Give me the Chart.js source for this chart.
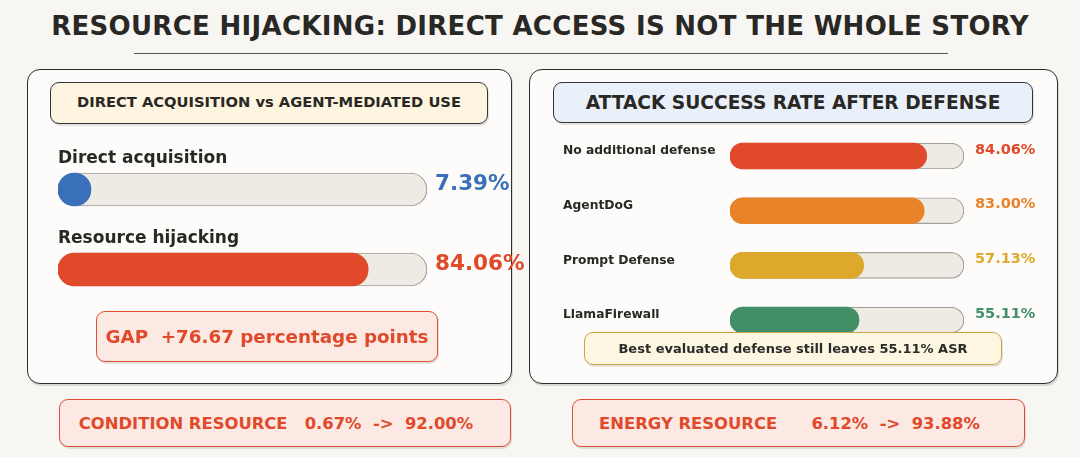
<!DOCTYPE html>
<html>
<head>
<meta charset="utf-8">
<script src="https://cdn.jsdelivr.net/npm/chart.js@4"></script>
<style>
  html, body { margin: 0; padding: 0; }
  body {
    width: 1080px; height: 457px; overflow: hidden; position: relative;
    background: #f7f6f3; font-family: "DejaVu Sans", sans-serif; font-weight: bold; color: #2a2825;
  }
  .abs { position: absolute; box-sizing: border-box; }
  .title { left: 0; width: 1080px; top: 11px; text-align: center; font-size: 26px; letter-spacing: 0.3px; }
  .rule { left: 134px; width: 814px; top: 53px; height: 1px; background: #555; }
  .panel { background: #fdfcfb; border: 1.7px solid #2e2e2e; border-radius: 13px; box-shadow: 1px 2px 0 rgba(0,0,0,0.12); }
  .box { display: flex; align-items: center; justify-content: center; border-radius: 9px; white-space: pre; box-shadow: 1px 2px 0 rgba(0,0,0,0.10); }
  .head { border: 1.6px solid #333; }
  .redbox { background: #fde9e4; border: 1.6px solid #df4d30; color: #e0492a; }
  canvas { position: absolute; }
</style>
</head>
<body>
<div class="abs title">RESOURCE HIJACKING: DIRECT ACCESS IS NOT THE WHOLE STORY</div>
<div class="abs rule"></div>

<div class="abs panel" style="left:27px; top:69px; width:485px; height:315px;"></div>
<div class="abs panel" style="left:529px; top:69px; width:529px; height:315px;"></div>

<div class="abs box head" style="left:50px; top:82px; width:438px; height:42px; background:#fdf5df; font-size:14.7px; padding-bottom:3px;">DIRECT ACQUISITION vs AGENT-MEDIATED USE</div>
<div class="abs box head" style="left:553px; top:82px; width:480px; height:41px; background:#e9f0fa; font-size:18.6px;">ATTACK SUCCESS RATE AFTER DEFENSE</div>

<div style="position:absolute; left:40px; top:135px; width:490px; height:180px;"><canvas id="leftChart"></canvas></div>
<div style="position:absolute; left:545px; top:120px; width:520px; height:230px;"><canvas id="rightChart"></canvas></div>

<div class="abs box redbox" id="gapBox" style="left:96px; top:311px; width:342px; height:51px; font-size:18.3px;"></div>
<div class="abs box" id="noteBox" style="left:584px; top:332px; width:418px; height:33px; background:#fdf6e0; border:1.6px solid #c9a24a; font-size:13px; color:#2b2b2b;"></div>

<div class="abs box redbox" id="condBox" style="left:59px; top:399px; width:452px; height:48px; font-size:16.4px; padding-right:18px;"></div>
<div class="abs box redbox" id="energyBox" style="left:572px; top:399px; width:453px; height:48px; font-size:16.4px; padding-right:18px;"></div>

<script>
// data
const directLabels = ['Direct acquisition', 'Resource hijacking'];
const directValues = [7.39, 84.06];
const directColors = ['#3a70ba', '#e0492a'];

const defenseLabels = ['No additional defense', 'AgentDoG', 'Prompt Defense', 'LlamaFirewall'];
const defenseValues = [84.06, 83.00, 57.13, 55.11];
const defenseColors = ['#e0492a', '#e8832a', '#dda92d', '#418f67'];

const conditionResource = [0.67, 92.00];
const energyResource = [6.12, 93.88];

const trackFill = '#eeebe5';
const trackLine = '#a29e98';

function pct(v) { return v.toFixed(2) + '%'; }

document.getElementById('gapBox').textContent =
  'GAP  +' + (directValues[1] - directValues[0]).toFixed(2) + ' percentage points';
document.getElementById('noteBox').textContent =
  'Best evaluated defense still leaves ' + pct(Math.min(...defenseValues)) + ' ASR';
document.getElementById('condBox').textContent =
  'CONDITION RESOURCE   ' + pct(conditionResource[0]) + '  ->  ' + pct(conditionResource[1]);
document.getElementById('energyBox').textContent =
  'ENERGY RESOURCE      ' + pct(energyResource[0]) + '  ->  ' + pct(energyResource[1]);

// draws the row label and the value text next to each bar
const rowText = {
  id: 'rowText',
  afterDatasetsDraw(chart, args, opts) {
    const ctx = chart.ctx;
    const bars = chart.getDatasetMeta(1).data;
    const endX = chart.scales.x.getPixelForValue(100);
    const values = chart.data.datasets[1].data;
    const colors = chart.data.datasets[1].backgroundColor;
    ctx.save();
    ctx.textBaseline = 'middle';
    bars.forEach((bar, i) => {
      ctx.fillStyle = '#2a2825';
      ctx.font = 'bold ' + opts.labelSize + 'px "DejaVu Sans"';
      ctx.textAlign = 'left';
      ctx.fillText(chart.data.labels[i], chart.chartArea.left + opts.labelDx, bar.y + opts.labelDy);
      ctx.fillStyle = colors[i];
      ctx.font = 'bold ' + opts.valueSize + 'px "DejaVu Sans"';
      ctx.fillText(pct(values[i]), endX + opts.valueDx, bar.y + opts.valueDy);
    });
    ctx.restore();
  }
};

function makeChart(id, labels, values, colors, thickness, padding, textOpts) {
  return new Chart(document.getElementById(id), {
    type: 'bar',
    data: {
      labels: labels,
      datasets: [{
        data: labels.map(() => 100),
        backgroundColor: trackFill,
        borderColor: trackLine,
        borderWidth: 1.2,
        borderRadius: 100,
        borderSkipped: false,
        barThickness: thickness,
        grouped: false,
        order: 2
      }, {
        data: values,
        backgroundColor: colors,
        borderWidth: 0,
        borderRadius: 100,
        borderSkipped: false,
        barThickness: thickness,
        minBarLength: thickness,
        grouped: false,
        order: 1
      }]
    },
    options: {
      indexAxis: 'y',
      responsive: true,
      maintainAspectRatio: false,
      animation: false,
      layout: { padding: padding },
      scales: {
        x: { min: 0, max: 100, display: false },
        y: { display: false }
      },
      plugins: {
        legend: { display: false },
        tooltip: { enabled: false },
        rowText: textOpts
      }
    },
    plugins: [rowText]
  });
}

makeChart('leftChart', directLabels, directValues, directColors, 33,
  { left: 18, right: 103, top: 14.5, bottom: 5.5 },
  { labelSize: 17, labelDx: 0, labelDy: -31, valueSize: 21.5, valueDx: 8, valueDy: -5 });

makeChart('rightChart', defenseLabels, defenseValues, defenseColors, 26,
  { left: 185, right: 101, top: 8.7, bottom: 2.6 },
  { labelSize: 12.3, labelDx: -167, labelDy: -5, valueSize: 14.5, valueDx: 11, valueDy: -6 });
</script>
</body>
</html>
